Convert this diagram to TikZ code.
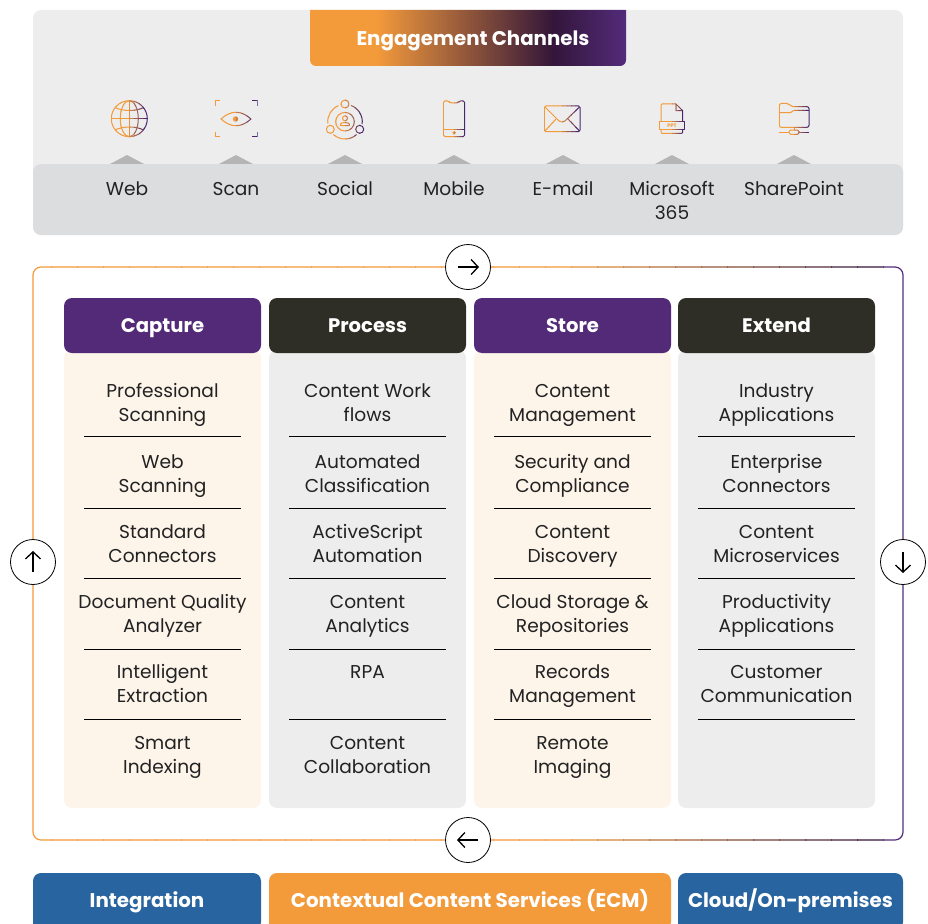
\documentclass[tikz,border=0pt]{standalone}
\usepackage{fontspec}
\setmainfont{Poppins}
\usetikzlibrary{arrows.meta}
\definecolor{iconorange}{HTML}{F39A3B}
\definecolor{iconpurple}{HTML}{4A2670}
\definecolor{tabdark}{HTML}{33163A}
\definecolor{tabpurple}{HTML}{532B7A}
\definecolor{colpurple}{HTML}{522A78}
\definecolor{coldark}{HTML}{2E2E26}
\definecolor{bodycream}{HTML}{FDF4EA}
\definecolor{panelgrey}{HTML}{EDEDED}
\definecolor{bandgrey}{HTML}{DCDDDF}
\definecolor{peakgrey}{HTML}{B5B5B5}
\definecolor{footblue}{HTML}{28649F}
\definecolor{inktext}{HTML}{222222}
\pgfdeclarehorizontalshading{tabshade}{100bp}{color(0bp)=(iconorange); color(35.5bp)=(iconorange); color(63.5bp)=(tabdark); color(75bp)=(tabpurple); color(100bp)=(tabpurple)}
\tikzset{
  iconline/.style = {draw = strokecol, line width = 1pt, line join = round},
  channeltext/.style = {text = inktext, font = \fontsize{18.6}{24}\selectfont, align = center, inner sep = 0pt},
  celltext/.style = {text = inktext, font = \fontsize{18.6}{24}\selectfont, align = center, inner sep = 0pt},
  headbox/.style = {text = white, font = \fontsize{19.6}{24}\selectfont\bfseries, minimum width = 197pt, minimum height = 55pt, inner sep = 0pt, rounded corners = 8pt, text height = 17pt, text depth = 3pt},
  bodybox/.style = {minimum width = 197pt, minimum height = 458pt, inner sep = 0pt, rounded corners = 8pt},
  whitetext/.style = {text = white, font = \fontsize{19.8}{24}\selectfont\bfseries, inner sep = 0pt, text height = 17pt, text depth = 3pt},
  roundbtn/.style = {circle, draw = black, fill = white, line width = 0.8pt, minimum size = 45pt, inner sep = 0pt},
  btnarrow/.style = {line width = 1.3pt, -{Straight Barb[length = 7pt, width = 15pt]}},
}
\newcommand\gradicon[3]{%
  \foreach \s in {0,...,7} {
    \pgfmathsetmacro\pct{min(100,(7-\s)*100/4)}
    \colorlet{strokecol}{iconorange!\pct!iconpurple}
    \begin{scope}
      \clip ({#1+(#2-#1)*\s/8},90) rectangle ({#1+(#2-#1)*(\s+1)/8+0.5},145);
      #3
    \end{scope}
  }
}
\newcommand\twolines[2]{\rule[-5pt]{0pt}{19pt}#1\\\rule[-5pt]{0pt}{19pt}#2}
\begin{document}
\begin{tikzpicture}[x = 1pt, y = -1pt]
\useasboundingbox (0,0) rectangle (928,923);
\fill [panelgrey, rounded corners = 8pt] (33,10) rectangle (903,235);
\foreach \xx in {127,236,345,454,563,672,794} \fill [peakgrey] (\xx-17,164) -- (\xx,155) -- (\xx+17,164) -- cycle;
\fill [bandgrey, rounded corners = 8pt] (33,164) rectangle (903,235);
\shade [shading = tabshade, rounded corners = 6pt] (310,10) [sharp corners] -- (310,40) [rounded corners = 6pt] -- (310,66) -- (626,66) -- (626,40) [sharp corners] -- (626,10) -- cycle;
\node [whitetext] (engagement) at (473,38.5) {Engagement Channels};
\foreach \nm/\xx/\yy/\txt in {web/127/203/Web, scan/236/203/Scan, social/345/203/Social, mobile/454/203/Mobile, email/563/203/E-mail, sharepoint/794/203/SharePoint} \node [channeltext] (\nm) at (\xx,\yy) {\twolines{\txt}{}};
\node [channeltext] (microsoft) at (672,203) {\twolines{Microsoft}{365}};
\gradicon{111}{148}{
  \draw [iconline] (129.3,118.7) circle [radius = 18pt];
  \draw [iconline] (129.3,118.7) ellipse [x radius = 9pt, y radius = 18pt];
  \draw [iconline] (129.3,100.7) -- (129.3,136.7) (111.3,118.7) -- (147.3,118.7);
  \draw [iconline] (115,107.5) .. controls (123,111.5) and (136,111.5) .. (143.6,107.5);
  \draw [iconline] (115,130) .. controls (123,126) and (136,126) .. (143.6,130);
}
\gradicon{215}{257}{
  \draw [iconline] (215,106) -- (215,101) -- (220,101) (252,101) -- (257,101) -- (257,106);
  \draw [iconline] (215,132) -- (215,136.5) -- (220,136.5) (252,136.5) -- (257,136.5) -- (257,132);
  \draw [iconline] (221,119) .. controls (231,110) and (241,110) .. (251,119) .. controls (241,128) and (231,128) .. (221,119) -- cycle;
  \fill [strokecol] (235.5,119) circle [radius = 2.7pt];
}
\gradicon{326}{364}{
  \draw [iconline] (345,104) circle [radius = 4pt];
  \draw [iconline] (330.3,129.3) circle [radius = 4pt];
  \draw [iconline] (359.7,129.3) circle [radius = 4pt];
  \draw [iconline] (345,121.7) ++(70:17.3pt) arc [start angle = 70, end angle = -8, radius = 17.3pt];
  \draw [iconline] (345,121.7) ++(-48:17.3pt) arc [start angle = -48, end angle = -132, radius = 17.3pt];
  \draw [iconline] (345,121.7) ++(112:17.3pt) arc [start angle = 112, end angle = 186, radius = 17.3pt];
  \draw [iconline] (345,121.7) circle [radius = 9.3pt];
  \draw [iconline] (345,118.3) circle [radius = 2.5pt];
  \draw [iconline] (340.7,125.5) -- (340.7,124) .. controls (341,122) and (349,122) .. (349.3,124) -- (349.3,125.5) -- cycle;
}
\gradicon{443}{465}{
  \draw [iconline, rounded corners = 1.5pt] (443.3,101) -- (449,101) -- (450,103) -- (458,103) -- (459,101) -- (464.7,101) -- (464.7,136.5) -- (443.3,136.5) -- cycle;
  \draw [iconline, line width = 1.5pt] (443.3,129.5) -- (464.7,129.5);
  \fill [strokecol] (454,132.8) circle [radius = 1.8pt];
}
\gradicon{544}{580}{
  \draw [iconline, rounded corners = 1.5pt] (544.3,106) rectangle (580,131.7);
  \draw [iconline] (545,107) -- (558,120) .. controls (560,122.5) and (564,122.5) .. (566,120) -- (579.5,107);
  \draw [iconline] (545,131) -- (556,119) (579.5,131) -- (568,119);
}
\gradicon{659}{685}{
  \draw [iconline, rounded corners = 1pt] (661,121) -- (661,104) -- (676,104);
  \draw [iconline] (676,104) -- (682.7,110.7) -- (682.7,121) (676,104) -- (676,110.7) -- (682.7,110.7);
  \draw [iconline] (659,121.3) rectangle (684.7,129.3);
  \draw [iconline, rounded corners = 1pt] (661,129.3) -- (661,133.3) -- (682.7,133.3) -- (682.7,129.3);
}
\node [text = iconorange, font = \fontsize{5}{5}\selectfont\bfseries, inner sep = 0pt] (ppt) at (672,125.3) {PPT};
\gradicon{779}{810}{
  \draw [iconline, rounded corners = 2pt] (779.3,112) -- (779.3,103.5) -- (789,103.5) -- (791,106.7) -- (809,106.7) -- (809,127.3) -- (779.3,127.3) -- cycle;
  \draw [iconline, rounded corners = 1pt] (779.3,112.7) -- (791,112.7) -- (793,110.5) -- (809,110.5);
  \draw [iconline] (794,127.3) -- (794,130) (779,132.3) -- (789,132.3) (799,132.3) -- (809,132.3);
  \draw [iconline, rounded corners = 1.5pt] (789,130) rectangle (799,134.3);
}
\foreach \s in {0,...,34} {
  \pgfmathsetmacro\pct{max(0,min(100,(32-\s)*100/12))}
  \colorlet{strokecol}{iconorange!\pct!tabdark}
  \ifnum\s>32 \colorlet{strokecol}{tabpurple}\fi
  \begin{scope}
    \clip ({25+\s*26},255) rectangle ({25+(\s+1)*26+1},850);
    \draw [strokecol, line width = 1.2pt, rounded corners = 8pt] (33,267) rectangle (903,840);
  \end{scope}
}
\foreach \nm/\xx/\fc/\bc/\txt in {capture/162.5/colpurple/bodycream/Capture, process/367.5/coldark/panelgrey/Process, store/572.5/colpurple/bodycream/Store, extend/776.5/coldark/panelgrey/Extend} {
  \node [bodybox, fill = \bc] (\nm body) at (\xx,579) {};
  \node [headbox, fill = \fc] (\nm) at (\xx,325.5) {\txt};
  \foreach \yy in {436.5,508,578.5,649,719} \draw [black, line width = 0.7pt] (\xx-78.5,\yy) -- (\xx+78.5,\yy);
}
\foreach \nm/\xx/\yy/\aa/\bb in {
  scanning/162.5/405/Professional/Scanning, webscan/162.5/476/Web/Scanning, connectors/162.5/546/Standard/Connectors,
  quality/162.5/616/Document Quality/Analyzer, extraction/162.5/686/Intelligent/Extraction, indexing/162.5/757/Smart/Indexing,
  workflows/367.5/405/Content Work/flows, classify/367.5/476/Automated/Classification, script/367.5/546/ActiveScript/Automation,
  analytics/367.5/616/Content/Analytics, rpa/367.5/686/RPA/{}, collab/367.5/757/Content/Collaboration,
  management/572.5/405/Content/Management, security/572.5/476/Security and/Compliance, discovery/572.5/546/Content/Discovery,
  storage/572.5/616/Cloud Storage \&/Repositories, records/572.5/686/Records/Management, imaging/572.5/757/Remote/Imaging,
  industry/776.5/405/Industry/Applications, enterprise/776.5/476/Enterprise/Connectors, micro/776.5/546/Content/Microservices,
  productivity/776.5/616/Productivity/Applications, customer/776.5/686/Customer/Communication}
  \node [celltext] (\nm) at (\xx,\yy) {\twolines{\aa}{\bb}};
\node [roundbtn] (btntop) at (468,267) {};
\node [roundbtn] (btnbottom) at (468,840) {};
\node [roundbtn] (btnleft) at (33,562) {};
\node [roundbtn] (btnright) at (903,562) {};
\draw [btnarrow] ([xshift = -10pt]btntop.center) -- ([xshift = 11pt]btntop.center);
\draw [btnarrow] ([xshift = 10pt]btnbottom.center) -- ([xshift = -11pt]btnbottom.center);
\draw [btnarrow] ([yshift = -10pt]btnleft.center) -- ([yshift = 11pt]btnleft.center);
\draw [btnarrow] ([yshift = 10pt]btnright.center) -- ([yshift = -11pt]btnright.center);
\fill [footblue, rounded corners = 8pt] (33,930) -- (33,873) -- (261,873) -- (261,930) [sharp corners] -- cycle;
\fill [iconorange, rounded corners = 8pt] (269,930) -- (269,873) -- (671,873) -- (671,930) [sharp corners] -- cycle;
\fill [footblue, rounded corners = 8pt] (678,930) -- (678,873) -- (903,873) -- (903,930) [sharp corners] -- cycle;
\node [whitetext] (integration) at (147,900) {Integration};
\node [whitetext] (contextual) at (470,900) {Contextual Content Services (ECM)};
\node [whitetext] (cloud) at (790.5,900) {Cloud/On-premises};
\end{tikzpicture}
\end{document}
